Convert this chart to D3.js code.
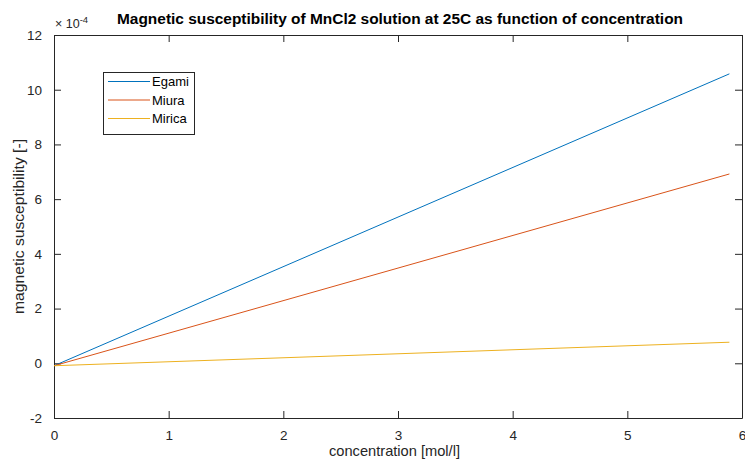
<!DOCTYPE html>
<html>
<head>
<meta charset="utf-8">
<script src="https://cdn.jsdelivr.net/npm/d3@7"></script>
<style>
  html, body { margin: 0; padding: 0; background: #fff; }
  svg { display: block; font-family: "Liberation Sans", Arial, Helvetica, sans-serif; }
</style>
</head>
<body>
<svg id="chart" width="745" height="463"></svg>
<script>
// Concentration [mol/l] at the start and end of each computed curve
const concentration = [0, 5.89];
// Susceptibility in units of 1e-4
const egami = [-0.09, 10.58];
const miura = [-0.09, 6.92];
const mirica = [-0.09, 0.77];

const seriesNames = ["Egami", "Miura", "Mirica"];
const seriesValues = [egami, miura, mirica];
const seriesColors = ["#0072BD", "#D95319", "#EDB120"];

const xTicks = [0, 1, 2, 3, 4, 5, 6];
const yTicks = [-2, 0, 2, 4, 6, 8, 10, 12];

const titleText = "Magnetic susceptibility of MnCl2 solution at 25C as function of concentration";
const xLabelText = "concentration [mol/l]";
const yLabelText = "magnetic susceptibility [-]";

const svg = d3.select("#chart");
const m = { left: 54, right: 742, top: 35, bottom: 418 };
const axisColor = "#262626";
const tickLen = 7;
const fmt = d => String(d); // plain hyphen-minus, integer labels

const x = d3.scaleLinear().domain([0, 6]).range([m.left, m.right]);
const y = d3.scaleLinear().domain([-2, 12]).range([m.bottom, m.top]);

// Box axes with inward ticks on all four sides
const bottomAxis = d3.axisBottom(x).tickValues(xTicks).tickFormat(fmt).tickSizeInner(-tickLen).tickSizeOuter(0).tickPadding(tickLen + 5);
const topAxis = d3.axisTop(x).tickValues(xTicks).tickSizeInner(-tickLen).tickSizeOuter(0).tickFormat("");
const leftAxis = d3.axisLeft(y).tickValues(yTicks).tickFormat(fmt).tickSizeInner(-tickLen).tickSizeOuter(0).tickPadding(tickLen + 5);
const rightAxis = d3.axisRight(y).tickValues(yTicks).tickSizeInner(-tickLen).tickSizeOuter(0).tickFormat("");

function styleAxis(g) {
  g.select(".domain").attr("stroke", axisColor).attr("stroke-width", 1);
  g.selectAll(".tick line").attr("stroke", axisColor).attr("stroke-width", 1);
  g.selectAll(".tick text").attr("fill", axisColor).attr("font-size", 13.5)
    .attr("font-family", "Liberation Sans, Arial, sans-serif");
}

svg.append("g").attr("transform", `translate(0,${m.bottom})`).call(bottomAxis).call(styleAxis);
svg.append("g").attr("transform", `translate(0,${m.top})`).call(topAxis).call(styleAxis);
svg.append("g").attr("transform", `translate(${m.left},0)`).call(leftAxis).call(styleAxis);
svg.append("g").attr("transform", `translate(${m.right},0)`).call(rightAxis).call(styleAxis);

// Data lines
const line = d3.line().x((d, i) => x(concentration[i])).y(d => y(d));
seriesValues.forEach((vals, k) => {
  svg.append("path")
    .datum(vals)
    .attr("d", line)
    .attr("fill", "none")
    .attr("stroke", seriesColors[k])
    .attr("stroke-width", 1);
});

// Exponent label for the y axis
const expo = svg.append("text")
  .attr("x", m.left + 1).attr("y", 28)
  .attr("fill", axisColor).attr("font-size", 12.5);
expo.append("tspan").text("\u00d7 10");
expo.append("tspan").attr("dy", -5).attr("font-size", 9.5).text("-4");

// Title
svg.append("text")
  .attr("x", 400).attr("y", 24)
  .attr("text-anchor", "middle")
  .attr("font-weight", "bold").attr("font-size", 14)
  .attr("fill", "#000")
  .attr("textLength", 566).attr("lengthAdjust", "spacingAndGlyphs")
  .text(titleText);

// Axis labels
svg.append("text")
  .attr("x", 394.5).attr("y", 456)
  .attr("text-anchor", "middle")
  .attr("font-size", 14.5).attr("fill", axisColor)
  .attr("textLength", 131).attr("lengthAdjust", "spacingAndGlyphs")
  .text(xLabelText);

svg.append("text")
  .attr("transform", `translate(24,${(m.top + m.bottom) / 2}) rotate(-90)`)
  .attr("text-anchor", "middle")
  .attr("font-size", 15.5).attr("fill", axisColor)
  .attr("textLength", 175).attr("lengthAdjust", "spacingAndGlyphs")
  .text(yLabelText);

// Legend
const legend = svg.append("g");
legend.append("rect")
  .attr("x", 103.5).attr("y", 72.5).attr("width", 91).attr("height", 62)
  .attr("fill", "#fff").attr("stroke", axisColor).attr("stroke-width", 1);
seriesNames.forEach((name, k) => {
  const ly = 81.5 + k * 18.5;
  legend.append("line")
    .attr("x1", 108).attr("x2", 150).attr("y1", ly).attr("y2", ly)
    .attr("stroke", seriesColors[k]).attr("stroke-width", 1);
  legend.append("text")
    .attr("x", 152).attr("y", ly + 4.5)
    .attr("font-size", 13).attr("fill", "#000")
    .text(name);
});
</script>
</body>
</html>
